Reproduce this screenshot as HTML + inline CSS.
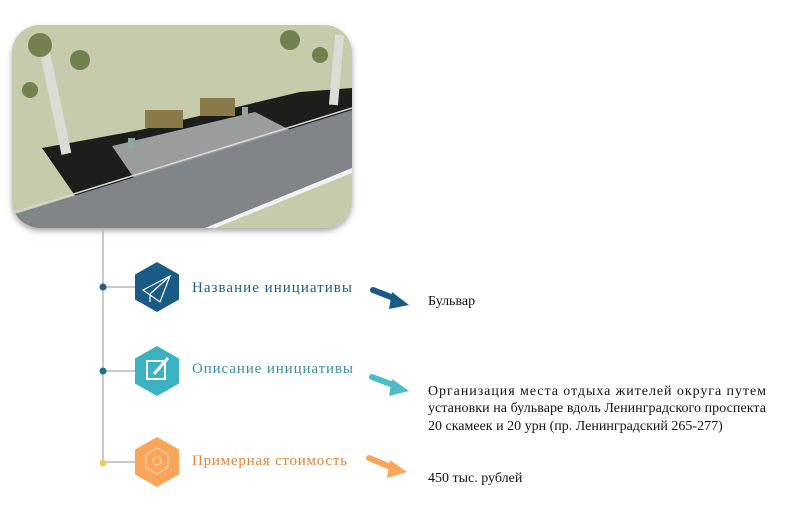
<!DOCTYPE html>
<html><head><meta charset="utf-8"><style>
body{margin:0;background:#fff;width:800px;height:524px;overflow:hidden;font-family:"Liberation Serif",serif}
</style></head><body>
<svg width="800" height="524" viewBox="0 0 800 524" xmlns="http://www.w3.org/2000/svg">
<defs>
<clipPath id="c"><rect x="12" y="25" width="340" height="203" rx="28"/></clipPath>
<filter id="s" x="-10%" y="-10%" width="120%" height="130%"><feDropShadow dx="0" dy="3" stdDeviation="3" flood-opacity="0.35"/></filter>
</defs>
<rect x="12" y="25" width="340" height="203" rx="28" fill="#c5cbab" filter="url(#s)"/>
<g clip-path="url(#c)">
<rect x="12" y="25" width="340" height="203" fill="#c5cbab"/>
<polygon points="42,148 140,130 300,92 352,88 352,120 130,185 78,200" fill="#1c1e1b"/>
<polygon points="112,146 255,112 290,130 134,178" fill="#9a9d9c"/>
<polygon points="12,215 352,110 352,172 210,228 12,228" fill="#80858a"/>
<polygon points="205,228 352,168 352,173 215,228" fill="#f2f2f2"/>
<line x1="12" y1="213" x2="352" y2="108" stroke="#d8d8d8" stroke-width="1.5"/>
<rect x="145" y="110" width="38" height="18" fill="#8a7a4a"/>
<rect x="200" y="98" width="35" height="18" fill="#8a7a4a"/>
<rect x="128" y="138" width="7" height="10" fill="#8fa89a"/>
<rect x="242" y="107" width="6" height="9" fill="#8fa89a"/>
<rect x="50" y="50" width="10" height="105" fill="#dcdcd6" transform="rotate(-12 55 100)"/>
<rect x="332" y="35" width="9" height="70" fill="#dcdcd6" transform="rotate(5 336 70)"/>
<g fill="#5e6e3a" opacity="0.8"><circle cx="40" cy="45" r="12"/><circle cx="80" cy="60" r="10"/><circle cx="30" cy="90" r="8"/><circle cx="290" cy="40" r="10"/><circle cx="320" cy="55" r="8"/></g>
</g>
<line x1="103" y1="228" x2="103" y2="463" stroke="#b5b8bb" stroke-width="1.5"/>
<line x1="103" y1="287" x2="140" y2="287" stroke="#b5b8bb" stroke-width="1.5"/>
<line x1="103" y1="371" x2="140" y2="371" stroke="#b5b8bb" stroke-width="1.5"/>
<line x1="103" y1="462" x2="140" y2="462" stroke="#b5b8bb" stroke-width="1.5"/>
<circle cx="103" cy="287" r="3.5" fill="#1f5f86"/>
<circle cx="103" cy="371" r="3.5" fill="#1f6f8e"/>
<circle cx="103" cy="463" r="3.5" fill="#f6c65a"/>
<polygon points="157,262 179,274.5 179,299.5 157,312 135,299.5 135,274.5" fill="#1a5b85"/>
<polygon points="157,346 179,358.5 179,383.5 157,396 135,383.5 135,358.5" fill="#3bb2c1"/>
<polygon points="157,437 179,449.5 179,474.5 157,487 135,474.5 135,449.5" fill="#f9a65a"/>
<g fill="none" stroke="#fff" stroke-width="1.2"><polygon points="143,290 170,276 160,302"/><line x1="170" y1="276" x2="150" y2="294"/><line x1="150" y1="294" x2="150" y2="302"/></g>
<g fill="none" stroke="#fff" stroke-width="2"><rect x="147" y="361" width="18" height="18"/></g>
<line x1="154" y1="374" x2="168" y2="358" stroke="#fff" stroke-width="3"/>
<g fill="none" stroke="#fde0c0" stroke-width="1"><polygon points="157,448 168,454.5 168,467.5 157,474 146,467.5 146,454.5"/><circle cx="157" cy="461" r="4"/></g>
<g font-size="15">
<text x="192" y="292" fill="#1f5d85" textLength="160" lengthAdjust="spacing">Название инициативы</text>
<text x="192" y="373" fill="#3a8ea1" textLength="161" lengthAdjust="spacing">Описание инициативы</text>
<text x="192" y="465" fill="#e0833a" textLength="155" lengthAdjust="spacing">Примерная стоимость</text>
</g>
<g stroke-linecap="round" stroke-width="6">
<line x1="373" y1="290" x2="396" y2="299" stroke="#1a5b85"/>
<polygon points="392,292 409,305 389,309" fill="#1a5b85" stroke="none"/>
<line x1="372" y1="377" x2="396" y2="386" stroke="#4bbcc8"/>
<polygon points="392,379 409,391 389,396" fill="#4bbcc8" stroke="none"/>
<line x1="369" y1="458" x2="393" y2="468" stroke="#f9a65a"/>
<polygon points="390,460 407,472 387,478" fill="#f9a65a" stroke="none"/>
</g>
<g font-size="14" fill="#111">
<text x="428" y="305">Бульвар</text>
<text x="428" y="395" textLength="338" lengthAdjust="spacing">Организация места отдыха жителей округа путем</text>
<text x="428" y="412" textLength="338" lengthAdjust="spacing">установки на бульваре вдоль Ленинградского проспекта</text>
<text x="428" y="430">20 скамеек и 20 урн (пр. Ленинградский 265-277)</text>
<text x="428" y="482">450 тыс. рублей</text>
</g>
</svg>
</body></html>
